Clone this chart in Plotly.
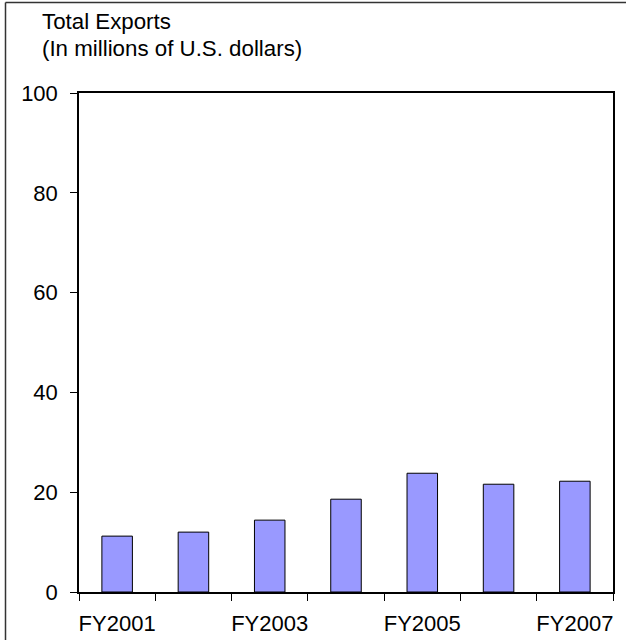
import plotly.graph_objects as go

categories = ["FY2001", "FY2002", "FY2003", "FY2004", "FY2005", "FY2006", "FY2007"]
values = [11.2, 12.0, 14.4, 18.6, 23.8, 21.6, 22.2]
label_every = 2
y_ticks = [0, 20, 40, 60, 80, 100]

W, H = 626, 640
L, R, T, B = 79, 13, 93, 48
pw, ph = W - L - R, H - T - B

xs = list(range(len(categories)))
font = dict(family="Liberation Sans, Arial, sans-serif", size=22, color="black")
tfont = dict(family="Liberation Sans, Arial, sans-serif", size=22.3, color="black")

fig = go.Figure()
fig.add_trace(go.Bar(
    x=xs, y=values, width=0.4,
    marker=dict(color="#9999FF", line=dict(color="black", width=1)),
    hoverinfo="skip",
))

fig.update_layout(
    width=W, height=H,
    margin=dict(l=L, r=R, t=T, b=B, pad=0, autoexpand=False),
    paper_bgcolor="white", plot_bgcolor="white",
    showlegend=False, font=font,
    xaxis=dict(
        range=[-0.5, len(categories) - 0.5],
        tickvals=xs[::label_every],
        ticktext=categories[::label_every],
        ticks="outside", ticklen=8, tickcolor="rgba(0,0,0,0)",
        ticklabelstandoff=3, automargin=False,
        minor=dict(tickmode="linear", tick0=-0.5, dtick=1, ticks="outside",
                   ticklen=7, tickcolor="black", tickwidth=1.2),
        showline=True, linecolor="black", linewidth=1.5, mirror=True,
        showgrid=False, zeroline=False, tickfont=font,
    ),
    yaxis=dict(
        range=[0, 100], tickvals=y_ticks,
        ticks="outside", ticklen=7, tickcolor="black", tickwidth=1.2,
        ticklabelstandoff=8, automargin=False,
        showline=True, linecolor="black", linewidth=1.5, mirror=True,
        showgrid=False, zeroline=False, tickfont=font,
    ),
)

fig.add_annotation(text="Total Exports", xref="paper", yref="paper",
                   x=(40 - L) / pw, y=(H - B - 21) / ph, xanchor="left", yanchor="middle",
                   showarrow=False, font=tfont)
fig.add_annotation(text="(In millions of U.S. dollars)", xref="paper", yref="paper",
                   x=(40 - L) / pw, y=(H - B - 49) / ph, xanchor="left", yanchor="middle",
                   showarrow=False, font=tfont)

# partial frame: left and top edges
fx, fy = 5.5, 2.5
fig.add_shape(type="line", xref="paper", yref="paper",
              x0=(fx - L) / pw, x1=(fx - L) / pw,
              y0=-B / ph, y1=(H - B - fy) / ph,
              line=dict(color="#333333", width=1.5))
fig.add_shape(type="line", xref="paper", yref="paper",
              x0=(fx - L) / pw, x1=(W - L) / pw,
              y0=(H - B - fy) / ph, y1=(H - B - fy) / ph,
              line=dict(color="#333333", width=1.5))

fig.write_html("out.html", config={"displayModeBar": False},
               post_script="document.body.style.margin='0';document.body.style.overflow='hidden';")
